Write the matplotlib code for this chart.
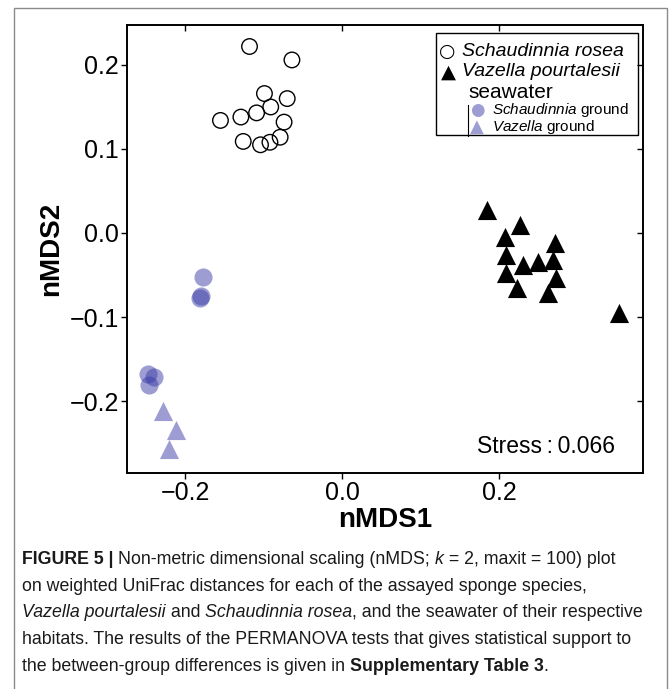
import matplotlib
matplotlib.use('Agg')
import matplotlib.pyplot as plt
from matplotlib.patches import Rectangle
from matplotlib.lines import Line2D
from matplotlib import font_manager

# nMDS coordinates
rosea_x = [-0.118, -0.064, -0.099, -0.070, -0.091, -0.109, -0.129, -0.155, -0.074, -0.126, -0.104, -0.092, -0.079]
rosea_y = [0.222, 0.206, 0.166, 0.160, 0.150, 0.143, 0.138, 0.134, 0.132, 0.109, 0.105, 0.108, 0.114]

vazella_x = [0.184, 0.226, 0.207, 0.271, 0.209, 0.249, 0.230, 0.268, 0.208, 0.272, 0.222, 0.262, 0.353]
vazella_y = [0.027, 0.010, -0.005, -0.012, -0.026, -0.034, -0.038, -0.032, -0.048, -0.054, -0.065, -0.072, -0.095]

schaud_ground_x = [-0.177, -0.180, -0.181, -0.247, -0.239, -0.246]
schaud_ground_y = [-0.052, -0.075, -0.077, -0.168, -0.171, -0.181]

vaz_ground_x = [-0.228, -0.212, -0.221]
vaz_ground_y = [-0.212, -0.234, -0.257]

xticks = [-0.2, 0.0, 0.2]
yticks = [-0.2, -0.1, 0.0, 0.1, 0.2]
stress = 0.066

ground_col = '#3c3ca8'

plt.rcParams['font.family'] = ['Liberation Sans', 'DejaVu Sans']
plt.rcParams['mathtext.fontset'] = 'custom'
plt.rcParams['mathtext.rm'] = 'Liberation Sans'
plt.rcParams['mathtext.it'] = 'Liberation Sans:italic'
plt.rcParams['mathtext.bf'] = 'Liberation Sans:bold'

# caption font: narrow if we have it
try:
    font_manager.findfont('Liberation Sans Narrow', fallback_to_default=False)
    cap_font = 'Liberation Sans Narrow'
    cap_fs = 13.5
except Exception:
    cap_font = 'Liberation Sans'
    cap_fs = 12.8

fig = plt.figure(figsize=(6.69, 6.89), dpi=100)
W, H = 669, 689

# outer grey frame of the figure panel
fig.patches.append(Rectangle((14 / W, -0.02), (667 - 14) / W, 1 - 8 / H + 0.02,
                             transform=fig.transFigure, fill=False,
                             edgecolor='#8a8a8a', lw=1.0))

ax = fig.add_axes([127 / W, 1 - 473 / H, (643 - 127) / W, (473 - 25) / H])

ax.scatter(rosea_x, rosea_y, s=125, facecolors='none', edgecolors='black', linewidths=1.0, zorder=3)
ax.scatter(vazella_x, vazella_y, s=190, marker='^', color='black', linewidths=0, zorder=3)
ax.scatter(schaud_ground_x, schaud_ground_y, s=170, color=ground_col, alpha=0.5, linewidths=0, zorder=3)
ax.scatter(vaz_ground_x, vaz_ground_y, s=190, marker='^', color=ground_col, alpha=0.5, linewidths=0, zorder=3)

ax.set_xlim(-0.274, 0.383)
ax.set_ylim(-0.2857, 0.2476)
ax.set_xticks(xticks)
ax.set_yticks(yticks)
ax.tick_params(axis='both', labelsize=18, length=4, width=1, direction='out', pad=2)
ax.tick_params(top=True, right=True)
for t in ax.xaxis.get_major_ticks():
    t.tick2line.set_marker(3)  # inward on top
for t in ax.yaxis.get_major_ticks():
    t.tick2line.set_marker(0)  # inward on right
for sp in ax.spines.values():
    sp.set_linewidth(1.4)

ax.set_xlabel('nMDS1', fontsize=20, fontweight='bold', labelpad=1)
ax.set_ylabel('nMDS2', fontsize=20, fontweight='bold', labelpad=4)

ax.text(0.946, 0.06, f'Stress\u2009:\u2009{stress:.3f}',
        transform=ax.transAxes, ha='right', va='center', fontsize=16.5)

# legend drawn by hand (indented sub-entries with a bar)
ax.add_patch(Rectangle((0.599, 0.7545), 0.391, 0.2275, transform=ax.transAxes,
                       fill=False, edgecolor='black', lw=1.0, zorder=4))
ax.text(0.6196, 0.9404, '\u25CB', transform=ax.transAxes, ha='center', va='center',
        fontsize=13.5, family=['DejaVu Sans'])
ax.text(0.6486, 0.9404, 'Schaudinnia rosea', transform=ax.transAxes, ha='left', va='center',
        fontsize=14, style='italic')
ax.text(0.622, 0.8958, '\u25B2', transform=ax.transAxes, ha='center', va='center',
        fontsize=14, family=['DejaVu Sans'])
ax.text(0.6492, 0.8958, 'Vazella pourtalesii', transform=ax.transAxes, ha='left', va='center',
        fontsize=14, style='italic')
ax.text(0.661, 0.850, 'seawater', transform=ax.transAxes, ha='left', va='center', fontsize=15)
ax.add_line(Line2D([0.660, 0.660], [0.752, 0.8214], transform=ax.transAxes, color='black', lw=0.8))
ax.text(0.679, 0.8103, '\u25CF', transform=ax.transAxes, ha='center', va='center',
        fontsize=12, family=['DejaVu Sans'], color=ground_col, alpha=0.5)
ax.text(0.7068, 0.8103, r'$\it{Schaudinnia}$ ground', transform=ax.transAxes, ha='left',
        va='center', fontsize=11)
ax.text(0.679, 0.773, '\u25B2', transform=ax.transAxes, ha='center', va='center',
        fontsize=13, family=['DejaVu Sans'], color=ground_col, alpha=0.5)
ax.text(0.7068, 0.773, r'$\it{Vazella}$ ground', transform=ax.transAxes, ha='left',
        va='center', fontsize=11)

# caption, written piece by piece so bold/italic runs can sit inline
renderer = fig.canvas.get_renderer()


def text_width(s, weight, style):
    t1 = fig.text(0, 0, 'x' + s + 'x', fontsize=cap_fs, family=cap_font, fontweight=weight, fontstyle=style)
    t2 = fig.text(0, 0, 'xx', fontsize=cap_fs, family=cap_font, fontweight=weight, fontstyle=style)
    w = t1.get_window_extent(renderer).width - t2.get_window_extent(renderer).width
    t1.remove()
    t2.remove()
    return w


def put_line(ybase, pieces):
    x = 22.0
    for s, kind in pieces:
        weight = 'bold' if kind == 'b' else 'normal'
        style = 'italic' if kind == 'i' else 'normal'
        fig.text(x / W, 1 - ybase / H, s, fontsize=cap_fs, family=cap_font,
                 fontweight=weight, fontstyle=style, va='baseline', ha='left', color='#1a1a1a')
        x += text_width(s, weight, style)


put_line(564, [('FIGURE 5 | ', 'b'), ('Non-metric dimensional scaling (nMDS; ', 'r'), ('k', 'i'),
               (' = 2, maxit = 100) plot', 'r')])
put_line(591, [('on weighted UniFrac distances for each of the assayed sponge species,', 'r')])
put_line(617, [('Vazella pourtalesii', 'i'), (' and ', 'r'), ('Schaudinnia rosea', 'i'),
               (', and the seawater of their respective', 'r')])
put_line(644, [('habitats. The results of the PERMANOVA tests that gives statistical support to', 'r')])
put_line(671, [('the between-group differences is given in ', 'r'), ('Supplementary Table 3', 'b'),
               ('.', 'r')])

fig.savefig('out.png', dpi=100)
